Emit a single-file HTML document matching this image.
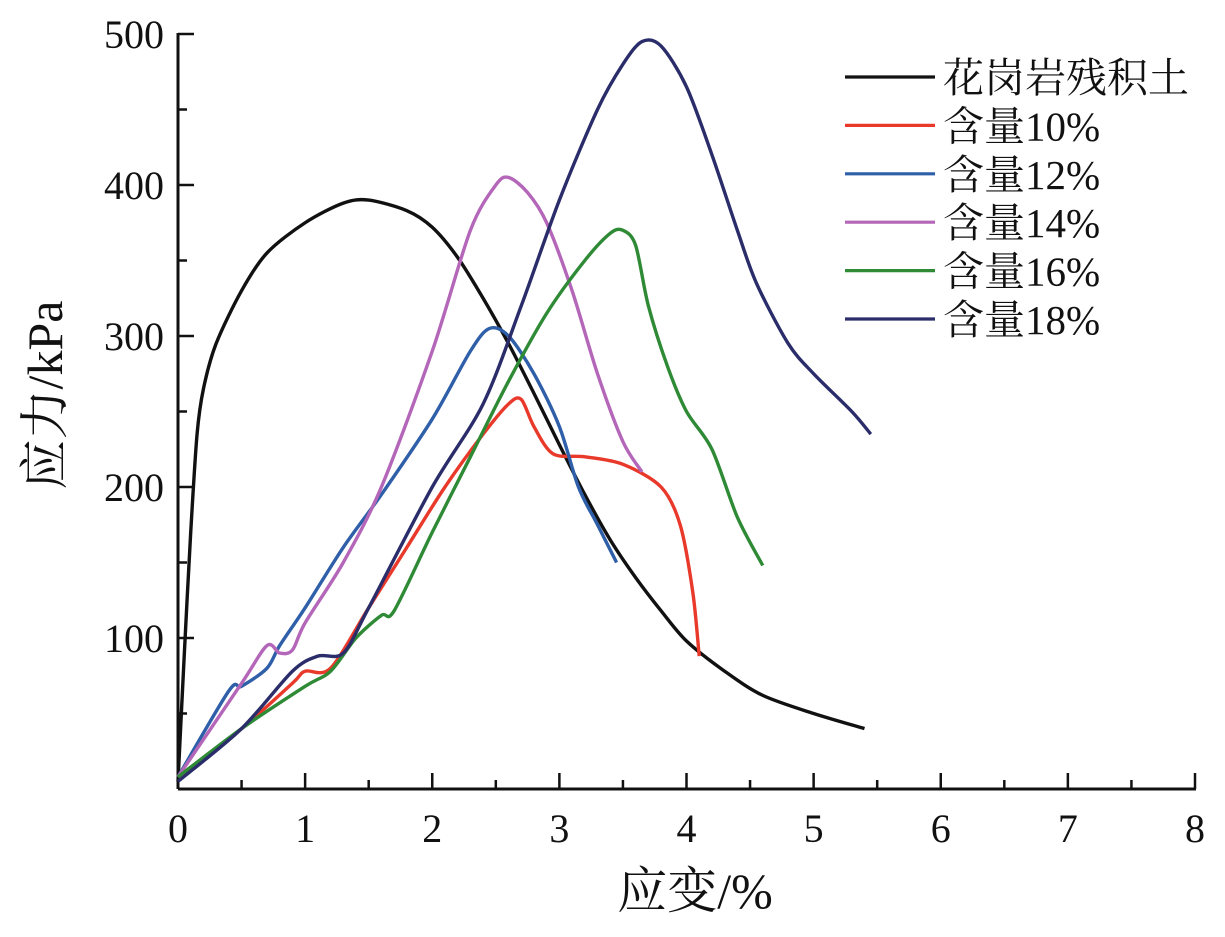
<!DOCTYPE html>
<html><head><meta charset="utf-8"><style>
body{margin:0;background:#fff}
svg text{font-family:"Liberation Serif","Noto Serif CJK SC",serif;fill:#111}
</style></head><body>
<svg id="c" width="1225" height="932" xmlns="http://www.w3.org/2000/svg"></svg>
<script>
const xTicks=[0,1,2,3,4,5,6,7,8];
const yTicks=[100,200,300,400,500];
const seriesNames=["花岗岩残积土","含量10%","含量12%","含量14%","含量16%","含量18%"];
const seriesColors=["#111","#e8392a","#2e5fa8","#b466b9","#2f8a36","#2a2d6a"];
const sBlack=[[0,5],[0.05,90],[0.1,170],[0.15,235],[0.2,265],[0.3,295],[0.5,330],[0.7,355],[1,375],[1.3,388],[1.5,390],[1.8,383],[2,372],[2.2,352],[2.4,325],[2.6,295],[2.8,262],[3,228],[3.2,195],[3.4,165],[3.6,140],[3.8,118],[4,98],[4.3,78],[4.6,62],[5,50],[5.4,40]];
const s10=[[0,8],[0.5,40],[0.9,70],[1,78],[1.2,80],[1.5,120],[1.8,160],[2.1,200],[2.4,235],[2.6,255],[2.7,258],[2.8,240],[2.95,222],[3.2,220],[3.5,215],[3.8,200],[3.95,175],[4.05,130],[4.1,88]];
const s12=[[0,8],[0.4,65],[0.5,68],[0.7,80],[0.8,95],[1,120],[1.3,160],[1.6,195],[2,245],[2.3,290],[2.45,305],[2.6,300],[2.8,275],[3,240],[3.15,200],[3.3,175],[3.45,150]];
const s14=[[0,8],[0.5,70],[0.7,95],[0.8,90],[0.9,92],[1,110],[1.3,150],[1.6,200],[2,290],[2.3,370],[2.5,400],[2.6,405],[2.75,395],[2.9,375],[3.1,330],[3.3,275],[3.5,230],[3.65,210]];
const s16=[[0,8],[0.5,40],[1,68],[1.2,78],[1.4,100],[1.6,115],[1.7,118],[2,170],[2.3,220],[2.6,270],[2.9,315],[3.2,350],[3.4,368],[3.5,370],[3.6,360],[3.7,320],[3.85,280],[4,250],[4.2,225],[4.4,180],[4.6,148]];
const s18=[[0,5],[0.5,40],[0.9,78],[1.1,88],[1.3,90],[1.5,120],[2,200],[2.4,255],[2.7,320],[3,390],[3.3,450],[3.5,480],[3.65,495],[3.8,492],[4,465],[4.2,420],[4.4,370],[4.55,335],[4.8,295],[5,275],[5.3,250],[5.45,235]];
const allSeries=[sBlack,s10,s12,s14,s16,s18];
const svg=document.getElementById('c');const NS="http://www.w3.org/2000/svg";
const X=v=>178+v*(1195-178)/8, Y=v=>789-v*(789-34)/500;
function mk(t,a,p){const e=document.createElementNS(NS,t);for(const k in a)e.setAttribute(k,a[k]);(p||svg).appendChild(e);return e;}
function smooth(pts){let d='M'+pts[0][0]+','+pts[0][1];for(let i=0;i<pts.length-1;i++){const p0=pts[Math.max(0,i-1)],p1=pts[i],p2=pts[i+1],p3=pts[Math.min(pts.length-1,i+2)];const t=0.15;d+=' C'+(p1[0]+(p2[0]-p0[0])*t)+','+(p1[1]+(p2[1]-p0[1])*t)+' '+(p2[0]-(p3[0]-p1[0])*t)+','+(p2[1]-(p3[1]-p1[1])*t)+' '+p2[0]+','+p2[1];}return d;}
let e;
e=mk('line',{x1:178,y1:789,x2:1196,y2:789,stroke:'#111','stroke-width':3});


e=mk('line',{x1:178,y1:789,x2:178,y2:33,stroke:'#111','stroke-width':3});


for(let i=0;i<=16;i++){const v=i/2;e=mk('line',{x1:X(v),y1:789,x2:X(v),y2:789-(i%2?9:16),stroke:'#111','stroke-width':2.5});

}
xTicks.forEach(v=>{e=mk('text',{x:X(v),y:842,'font-size':40,'text-anchor':'middle'});e.textContent=v;

});
for(let i=1;i<=10;i++){const v=i*50;e=mk('line',{x1:178,y1:Y(v),x2:178+(i%2?9:16),y2:Y(v),stroke:'#111','stroke-width':2.5});

}
yTicks.forEach(v=>{e=mk('text',{x:164,y:Y(v)+14,'font-size':40,'text-anchor':'end'});e.textContent=v;

});
e=mk('text',{x:695,y:908,'font-size':50,'text-anchor':'middle'});e.textContent='应变/%';


e=mk('text',{x:0,y:0,'font-size':50,'text-anchor':'middle',transform:'translate(62,395) rotate(-90)'});e.textContent='应力/kPa';


allSeries.forEach((s,i)=>{e=mk('path',{d:smooth(s.map(p=>[X(p[0]),Y(p[1])])),fill:'none',stroke:seriesColors[i],'stroke-width':3.4,'stroke-linejoin':'round'});

});
seriesNames.forEach((n,i)=>{const y=77+i*48.4;
e=mk('line',{x1:845,y1:y,x2:935,y2:y,stroke:seriesColors[i],'stroke-width':3.2});


e=mk('text',{x:943,y:y+15,'font-size':41});e.textContent=n;

});
</script>
</body></html>
